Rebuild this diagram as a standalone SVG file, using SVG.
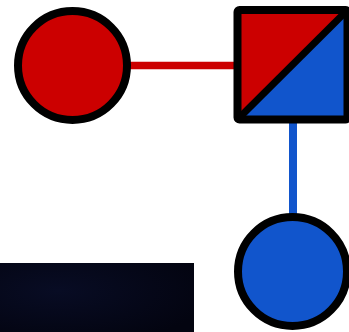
<svg xmlns="http://www.w3.org/2000/svg" width="349" height="332" viewBox="0 0 349 332">
<style>
.outline{stroke:#000;stroke-width:8;stroke-linejoin:round}
.red{fill:#cc0000}
.blue{fill:#1155cc}
</style>
<defs>
<radialGradient id="bg" cx="0.3" cy="0.4" r="0.8">
<stop offset="0" stop-color="#080c24"/>
<stop offset="1" stop-color="#030410"/>
</radialGradient>
</defs>
<rect x="0" y="263" width="194" height="69" fill="url(#bg)"/>
<g id="connectors">
<line x1="128" y1="65.5" x2="238" y2="65.5" stroke="#cc0000" stroke-width="7.5"/>
<line x1="293" y1="118" x2="293" y2="216" stroke="#1155cc" stroke-width="8"/>
</g>
<g id="node-red-circle">
<circle cx="72.5" cy="65.5" r="54.5" class="red outline"/>
</g>
<g id="node-square">
<path d="M237.5 119.5 L237.5 10 L347.5 10 Z" class="red"/>
<path d="M237.5 119.5 L347.5 10 L347.5 119.5 Z" class="blue"/>
<rect x="237.5" y="10" width="110" height="109.5" rx="2" fill="none" class="outline"/>
<line x1="237.5" y1="119.5" x2="347.5" y2="10" stroke="#000" stroke-width="7"/>
</g>
<g id="node-blue-circle">
<circle cx="292.5" cy="271.5" r="54.5" class="blue outline"/>
</g>
</svg>
